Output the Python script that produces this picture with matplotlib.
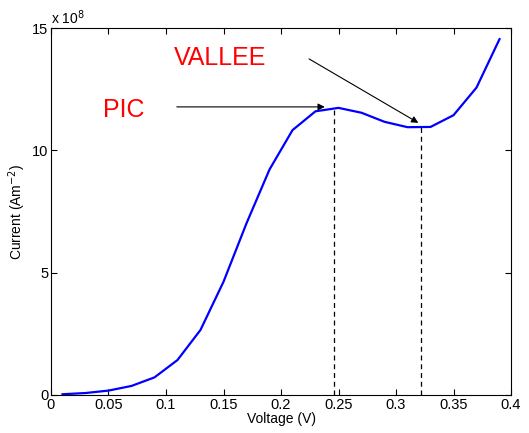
import numpy as np
import matplotlib
matplotlib.use("Agg")
from matplotlib import pyplot as plt

plt.rcParams['font.family'] = ['Liberation Sans', 'DejaVu Sans']

# voltage (V) and current (x 1e8 A/m^2)
voltage = [0.01, 0.03, 0.05, 0.07, 0.09, 0.11, 0.13, 0.15, 0.17, 0.19,
           0.21, 0.23, 0.25, 0.27, 0.29, 0.31, 0.33, 0.35, 0.37, 0.39]
current = [0.03, 0.08, 0.18, 0.37, 0.72, 1.43, 2.66, 4.63, 7.02, 9.22,
           10.83, 11.6, 11.74, 11.54, 11.17, 10.95, 10.96, 11.44, 12.57, 14.55]

peak_v, peak_i = 0.2465, 11.7
valley_v, valley_i = 0.322, 10.95

fig = plt.figure(figsize=(5.29, 4.33), dpi=100)
ax = fig.add_axes([0.0964, 0.0878, 0.8696, 0.8472])

ax.plot(voltage, current, color='#0000ff', lw=1.6)
ax.plot([peak_v, peak_v], [0, peak_i], 'k--', lw=0.9, dashes=(4, 3))
ax.plot([valley_v, valley_v], [0, valley_i], 'k--', lw=0.9, dashes=(4, 3))

ax.annotate('', xy=(0.2405, 11.78), xytext=(0.107, 11.78),
            arrowprops=dict(arrowstyle='-|>', color='k', lw=0.8, mutation_scale=10))
ax.annotate('', xy=(0.3215, 11.07), xytext=(0.2223, 13.8),
            arrowprops=dict(arrowstyle='-|>', color='k', lw=0.8, mutation_scale=10))
ax.text(0.045, 11.65, 'PIC', color='red', fontsize=18, va='center', ha='left')
ax.text(0.107, 13.76, 'VALLEE', color='red', fontsize=18, va='center', ha='left')

ax.set_xlim(0, 0.4)
ax.set_ylim(0, 15)
ax.set_xticks([0, 0.05, 0.1, 0.15, 0.2, 0.25, 0.3, 0.35, 0.4])
ax.set_xticklabels(['0', '0.05', '0.1', '0.15', '0.2', '0.25', '0.3', '0.35', '0.4'])
ax.set_yticks([0, 5, 10, 15])
ax.tick_params(direction='in', top=True, right=True, labelsize=10.5, length=4, width=0.8, pad=2)
for s in ax.spines.values():
    s.set_linewidth(0.8)
ax.set_xlabel('Voltage (V)', fontsize=10, labelpad=0)
ax.set_ylabel('Current (Am$^{-2}$)', fontsize=10, labelpad=3)
ax.text(0.0, 1.003, 'x 10$^{8}$', transform=ax.transAxes, fontsize=10, va='bottom', ha='left')

fig.savefig('out.png', dpi=100)
